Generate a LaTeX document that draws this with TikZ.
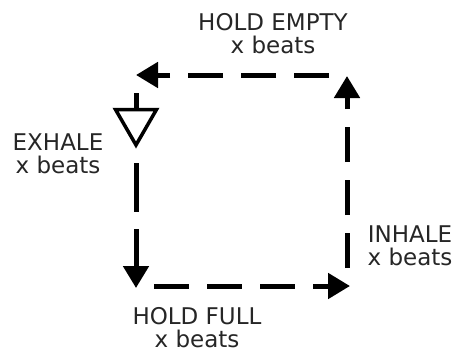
\documentclass[tikz,border=0pt]{standalone}
\usepackage{fontspec}
\setmainfont{DejaVu Sans}
\usetikzlibrary{arrows.meta}
\begin{document}
\begin{tikzpicture}[x=1pt,y=-1pt,
  flow/.style={line width=5pt, draw=black, dash pattern=on 35pt off 18pt,
    -{Triangle[length=22pt,width=25pt]}},
  lbl/.style={font=\fontsize{23}{23}\selectfont, text=black!85, align=center,
    inner sep=0pt, anchor=base}]
\useasboundingbox (0,0) rectangle (465,354);

% corner points of the breathing square
\coordinate (topS) at (329,75);
\coordinate (topE) at (136,75);
\coordinate (rightS) at (347,268);
\coordinate (rightE) at (347,76);
\coordinate (botS) at (154,286);
\coordinate (botE) at (350,286);
\coordinate (stemS) at (136,93);
\coordinate (stemE) at (136,109);
\coordinate (leftS) at (136,163);
\coordinate (leftE) at (136,288);

% four sides
\draw[flow] (topS) -- (topE);
\draw[flow] (rightS) -- (rightE);
\draw[flow] (botS) -- (botE);
\draw[flow, dash pattern=on 49pt off 17pt] (leftS) -- (leftE);

% start marker: stem with open triangle
\draw[line width=5pt] (stemS) -- (stemE);
\draw[line width=3.5pt, miter limit=10] (115.5,109.5) -- (156.5,109.5) -- (136,145) -- cycle;

% labels (anchored at the baseline of the second line)
\node[lbl] (empty) at (273,53) {HOLD EMPTY\\x beats};
\node[lbl] (exhale) at (58,173) {EXHALE\\x beats};
\node[lbl] (inhale) at (410,265) {INHALE\\x beats};
\node[lbl] (full) at (197,347) {HOLD FULL\\x beats};
\end{tikzpicture}
\end{document}
